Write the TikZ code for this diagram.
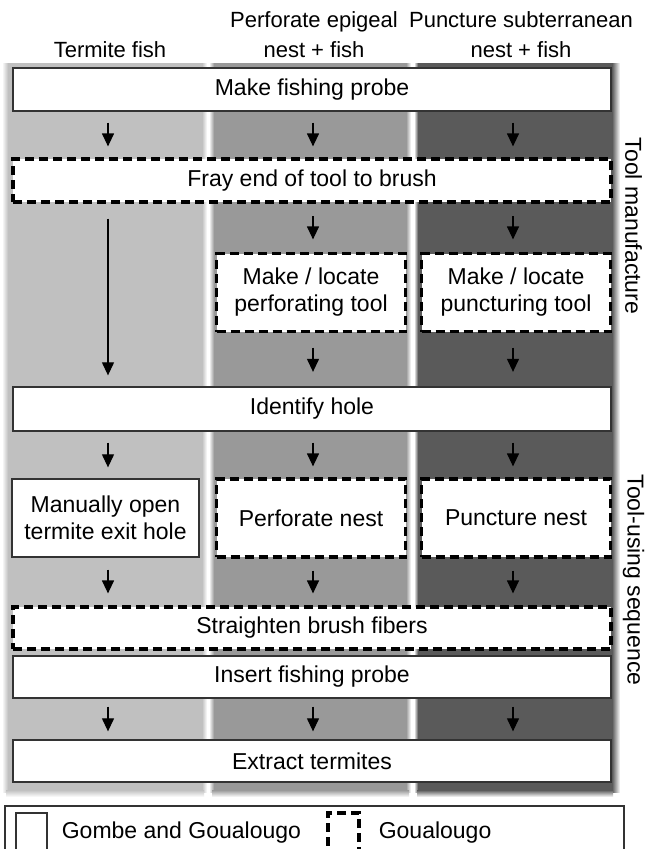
\documentclass[tikz,border=0pt]{standalone}
\usepackage{fontspec}
\setmainfont{Liberation Sans}
\usetikzlibrary{arrows.meta,positioning}
\definecolor{laneA}{HTML}{C0C0C0}
\definecolor{laneB}{HTML}{999999}
\definecolor{laneC}{HTML}{5A5A5A}

\begin{document}
\begin{tikzpicture}[x=1pt,y=-1pt,>={Triangle[length=13pt,width=12pt]},
  every node/.style={font=\fontsize{23}{27}\selectfont,inner sep=0pt},
  both/.style={draw=black!80,line width=1.3pt,fill=white,align=center},
  gou/.style={both,draw=black,line width=3.2pt,dash pattern=on 9pt off 5pt},
  wide/.style={minimum width=598pt,minimum height=43pt},
  lanebox/.style={minimum width=189pt,minimum height=78pt},
  head/.style={anchor=south,align=center,font=\fontsize{22}{30}\selectfont},
  arr/.style={->,line width=1.2pt,shorten <=#1,shorten >=#1}]
\useasboundingbox (0,0) rectangle (646,849);
\clip (0,0) rectangle (646,849);
\fill[white] (0,0) rectangle (646,849);

\fill[laneA] (6,63) rectangle (204,792);
\fill[laneB] (212,63) rectangle (409,792);
\fill[laneC] (417,63) rectangle (613,792);
\shade[left color=white,right color=laneA] (2,63) rectangle (8,792);
\shade[left color=laneA,right color=white] (202,63) rectangle (207,792);
\shade[left color=white,right color=laneB] (209,63) rectangle (214,792);
\shade[left color=laneB,right color=white] (406,63) rectangle (411,792);
\shade[left color=white,right color=laneC] (414,63) rectangle (418,792);
\shade[left color=laneC,right color=white] (612,63) rectangle (620,792);
\shade[top color=laneA,bottom color=white] (6,790) rectangle (204,797);
\shade[top color=laneB,bottom color=white] (212,790) rectangle (409,797);
\shade[top color=laneC,bottom color=white] (417,790) rectangle (613,797);

\node[head] (hfish) at (110,58) {Termite fish};
\node[head] (hperf) at (314,58) {Perforate epigeal\\nest + fish};
\node[head] (hpunc) at (521,58) {Puncture subterranean\\nest + fish};

\node[both,wide] (make) at (312,89.5) {Make fishing probe};
\node[gou,wide] (fray) at (312,180.5) {Fray end of tool to brush};
\node[gou,lanebox] (perftool) at (311,292.5) {Make / locate\\perforating tool};
\node[gou,lanebox] (punctool) at (516,292.5) {Make / locate\\puncturing tool};
\node[both,wide,minimum height=44pt] (ident) at (312,409) {Identify hole};
\node[both,lanebox,minimum width=187pt] (manual) at (105.5,518) {Manually open\\termite exit hole};
\node[gou,lanebox] (perfnest) at (311,518) {Perforate nest};
\node[gou,lanebox] (puncnest) at (516,518) {Puncture nest};
\node[gou,wide,minimum height=42pt] (straight) at (312,628) {Straighten brush fibers};
\node[both,wide,minimum height=42pt] (insert) at (312,677) {Insert fishing probe};
\node[both,wide,minimum height=42pt] (extract) at (312,761) {Extract termites};

\node[rotate=-90] (manu) at (633.5,226) {Tool manufacture};
\node[rotate=-90] (seq) at (633.5,580) {Tool-using sequence};

\coordinate (c1) at (108,0);
\coordinate (c2) at (313,0);
\coordinate (c3) at (513,0);

\draw[arr=11pt] (make.south -| c1) -- (fray.north -| c1);
\draw[arr=11pt] (make.south -| c2) -- (fray.north -| c2);
\draw[arr=11pt] (make.south -| c3) -- (fray.north -| c3);
\draw[->,line width=1.2pt,shorten <=15pt,shorten >=11pt] (fray.south -| c1) -- (ident.north -| c1);
\draw[arr=12.5pt] (fray.south -| c2) -- (perftool.north -| c2);
\draw[arr=12.5pt] (fray.south -| c3) -- (punctool.north -| c3);
\draw[arr=14.5pt] (perftool.south -| c2) -- (ident.north -| c2);
\draw[arr=14.5pt] (punctool.south -| c3) -- (ident.north -| c3);
\draw[arr=11pt] (ident.south -| c1) -- (manual.north -| c1);
\draw[arr=11pt] (ident.south -| c2) -- (perfnest.north -| c2);
\draw[arr=11pt] (ident.south -| c3) -- (puncnest.north -| c3);
\draw[arr=12pt] (manual.south -| c1) -- (straight.north -| c1);
\draw[arr=12pt] (perfnest.south -| c2) -- (straight.north -| c2);
\draw[arr=12pt] (puncnest.south -| c3) -- (straight.north -| c3);
\draw[arr=8pt] (insert.south -| c1) -- (extract.north -| c1);
\draw[arr=8pt] (insert.south -| c2) -- (extract.north -| c2);
\draw[arr=8pt] (insert.south -| c3) -- (extract.north -| c3);

\node[draw=black!80,line width=1.3pt,minimum width=619pt,minimum height=50pt] (legend) at (314.5,831) {};
\node[both,minimum width=31pt,minimum height=40pt] (keyboth) at (31.5,833) {};
\node[right=14pt of keyboth] (txtboth) {Gombe and Goualougo};
\node[gou,minimum width=31pt,minimum height=40pt] (keygou) at (343.5,833) {};
\node[right=18pt of keygou] (txtgou) {Goualougo};
\end{tikzpicture}
\end{document}
